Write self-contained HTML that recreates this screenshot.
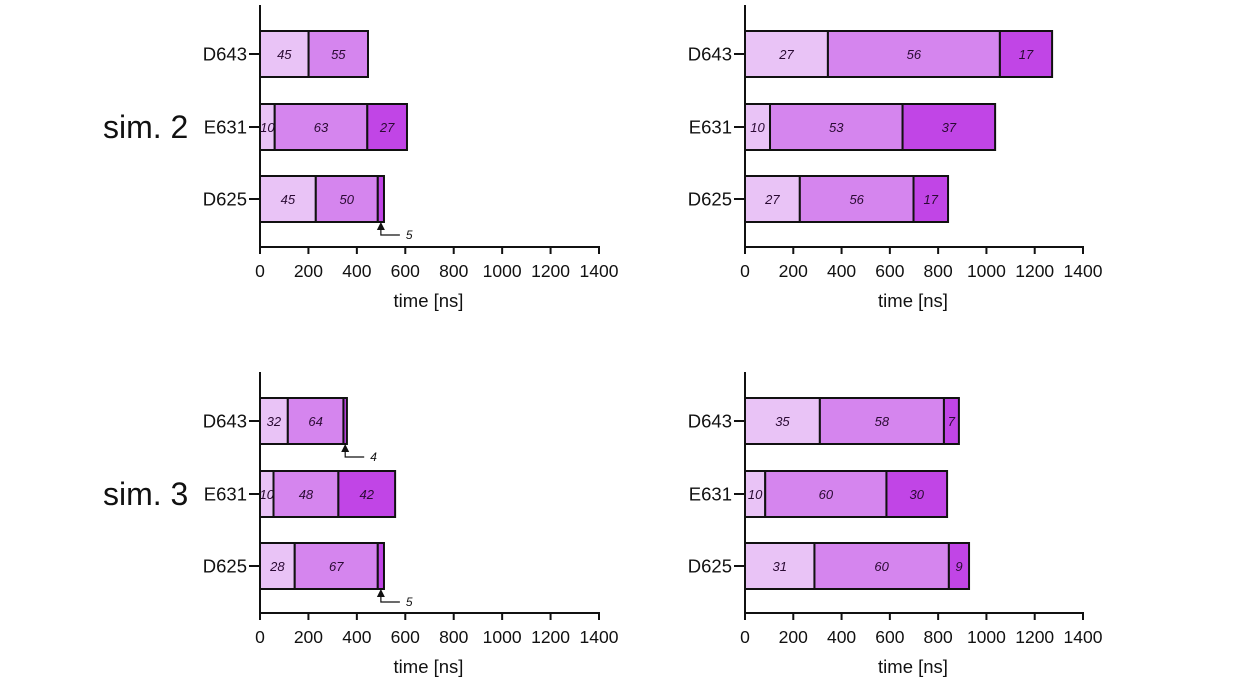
<!DOCTYPE html>
<html><head><meta charset="utf-8"><style>
html,body{margin:0;padding:0;background:#fff;}
svg{display:block;font-family:"Liberation Sans",Arial,sans-serif;}
</style></head><body>
<svg id="c" width="1260" height="682" viewBox="0 0 1260 682"></svg>
<script>
const residues = ["D643","E631","D625"];
const panelTotals = [[446,607,512],[1272,1036,841],[359,558,512],[886,837,928]];
const panelPcts = [
 [[45,55,0],[10,63,27],[45,50,5]],
 [[27,56,17],[10,53,37],[27,56,17]],
 [[32,64,4],[10,48,42],[28,67,5]],
 [[35,58,7],[10,60,30],[31,60,9]]
];
const panelLabels = [
 [["45","55",""],["10","63","27"],["45","50",""]],
 [["27","56","17"],["10","53","37"],["27","56","17"]],
 [["32","64",""],["10","48","42"],["28","67",""]],
 [["35","58","7"],["10","60","30"],["31","60","9"]]
];
const callouts = [[],[],[],[]];
callouts[0]=[{row:2,text:"5"}];
callouts[2]=[{row:0,text:"4"},{row:2,text:"5"}];
const ticks = [0,200,400,600,800,1000,1200,1400];
const simLabels = ["sim. 2","sim. 3"];
const colors = ["#e9c3f6","#d585ee","#c145e6"];

const NS="http://www.w3.org/2000/svg";
const svg=document.getElementById("c");
function mk(tag,attrs,parent){const e=document.createElementNS(NS,tag);for(const k in attrs)e.setAttribute(k,attrs[k]);(parent||svg).appendChild(e);return e;}

const layout=[{x0:260,w:339,ax:247,top:5,rows:[54,127,199]},{x0:745,w:338,ax:247,top:5,rows:[54,127,199]},
 {x0:260,w:339,ax:613,top:372,rows:[421,494,566]},{x0:745,w:338,ax:613,top:372,rows:[421,494,566]}];

layout.forEach((L,p)=>{
  const g=mk("g",{});
  
  
  const xs=v=>L.x0+v*L.w/1400;
  residues.forEach((r,i)=>{
    const yc=L.rows[i], tot=panelTotals[p][i];
    let acc=0;
    panelPcts[p][i].forEach((pc,j)=>{
      if(pc<=0)return;
      const a=xs(tot*acc/100), b=xs(tot*(acc+pc)/100);
      const rect=mk("rect",{x:a,y:yc-23,width:b-a,height:46,fill:colors[j],stroke:"#111","stroke-width":2},g);
      
      
      const lab=panelLabels[p][i][j];
      if(lab){const t=mk("text",{x:(a+b)/2,y:yc+5,"text-anchor":"middle","font-size":13,"font-style":"italic",fill:"#2a0a33"},g);t.textContent=lab;
        
        }
      acc+=pc;
    });
    mk("line",{x1:L.x0-11,x2:L.x0,y1:yc,y2:yc,stroke:"#111","stroke-width":2},g);
    const yl=mk("text",{x:L.x0-13,y:yc+6.5,"text-anchor":"end","font-size":18.5,fill:"#111"},g);yl.textContent=r;
    
    
  });
  callouts[p].forEach(c=>{
    const tot=panelTotals[p][c.row];
    const x=xs(tot*(1-panelPcts[p][c.row][2]/200)), yb=L.rows[c.row]+23;
    mk("path",{d:`M${x-4},${yb+8} L${x+4},${yb+8} L${x},${yb} Z`,fill:"#111"},g);
    mk("path",{d:`M${x},${yb+8} V${yb+13} H${x+19}`,fill:"none",stroke:"#111","stroke-width":1.2},g);
    const t=mk("text",{x:x+25,y:yb+17,"font-size":12,"font-style":"italic",fill:"#111"},g);t.textContent=c.text;
    
    
  });
  mk("line",{x1:L.x0,x2:L.x0,y1:L.top,y2:L.ax+1,stroke:"#111","stroke-width":2},g);
  mk("line",{x1:L.x0-1,x2:xs(1400)+1,y1:L.ax,y2:L.ax,stroke:"#111","stroke-width":2},g);
  ticks.forEach(v=>{
    mk("line",{x1:xs(v),x2:xs(v),y1:L.ax,y2:L.ax+7,stroke:"#111","stroke-width":2},g);
    const t=mk("text",{x:xs(v),y:L.ax+30,"text-anchor":"middle","font-size":17.5,fill:"#111"},g);t.textContent=v;
    
    
  });
  const xt=mk("text",{x:xs(700)-1,y:L.ax+60,"text-anchor":"middle","font-size":18.5,fill:"#111"},g);xt.textContent="time [ns]";
  
  
});
simLabels.forEach((s,i)=>{
  const t=mk("text",{x:103,y:[138,505][i],"font-size":32,fill:"#111"});t.textContent=s;
  
  
});
</script>
</body></html>
